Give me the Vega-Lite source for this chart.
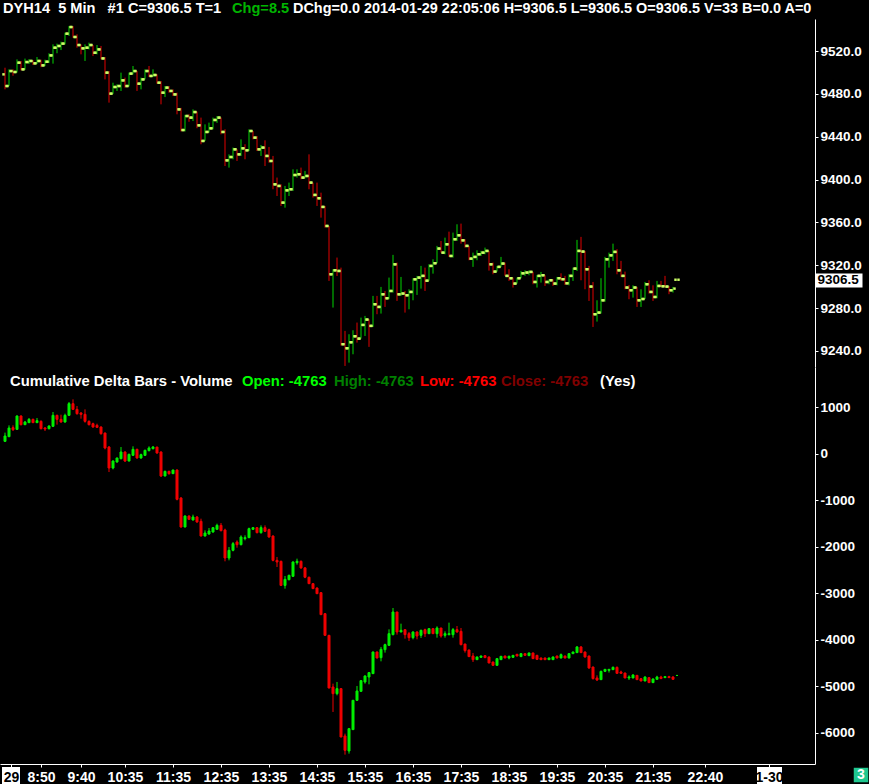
{
  "$schema": "https://vega.github.io/schema/vega-lite/v6.json",
  "background": "black",
  "padding": 0,
  "spacing": 0,
  "config": {
    "view": {"stroke": null},
    "axis": {"labelFont": "Liberation Sans", "labelFontWeight": "bold", "labelFontSize": 13.5, "labelColor": "white", "domainColor": "white", "tickColor": "white", "grid": false, "title": null}
  },
  "datasets": {
    "bars": [
      {"t":"2014-01-29T08:05Z","po":9498.3,"ph":9504.5,"pl":9484.3,"pc":9487.4,"dO":272,"dH":459,"dL":258,"dC":387},
      {"t":"2014-01-29T08:10Z","po":9487.4,"ph":9503,"pl":9487.4,"pc":9501.4,"dO":372,"dH":616,"dL":372,"dC":559},
      {"t":"2014-01-29T08:15Z","po":9501.4,"ph":9503,"pl":9497,"pc":9500.5,"dO":566,"dH":616,"dL":494,"dC":523},
      {"t":"2014-01-29T08:20Z","po":9500.5,"ph":9512.3,"pl":9500,"pc":9509.2,"dO":530,"dH":831,"dL":523,"dC":817},
      {"t":"2014-01-29T08:25Z","po":9509.2,"ph":9510.8,"pl":9502,"pc":9503,"dO":817,"dH":831,"dL":616,"dC":630},
      {"t":"2014-01-29T08:30Z","po":9503,"ph":9513,"pl":9502.5,"pc":9509.8,"dO":630,"dH":710,"dL":630,"dC":688},
      {"t":"2014-01-29T08:35Z","po":9509.8,"ph":9512.5,"pl":9508,"pc":9510.8,"dO":674,"dH":774,"dL":667,"dC":745},
      {"t":"2014-01-29T08:40Z","po":9510.8,"ph":9511.5,"pl":9507,"pc":9508.6,"dO":745,"dH":760,"dL":667,"dC":674},
      {"t":"2014-01-29T08:45Z","po":9508.6,"ph":9514.5,"pl":9508,"pc":9510.8,"dO":674,"dH":774,"dL":674,"dC":717},
      {"t":"2014-01-29T08:50Z","po":9510.8,"ph":9512,"pl":9505,"pc":9506.7,"dO":702,"dH":724,"dL":530,"dC":544},
      {"t":"2014-01-29T08:55Z","po":9506.7,"ph":9512,"pl":9506,"pc":9510.1,"dO":559,"dH":580,"dL":494,"dC":537},
      {"t":"2014-01-29T09:00Z","po":9510.1,"ph":9518,"pl":9509,"pc":9516,"dO":544,"dH":616,"dL":530,"dC":602},
      {"t":"2014-01-29T09:05Z","po":9516,"ph":9526.3,"pl":9508.3,"pc":9523.2,"dO":595,"dH":903,"dL":580,"dC":831},
      {"t":"2014-01-29T09:10Z","po":9523.2,"ph":9527,"pl":9518,"pc":9524.8,"dO":831,"dH":846,"dL":631,"dC":745},
      {"t":"2014-01-29T09:15Z","po":9524.8,"ph":9528.8,"pl":9521,"pc":9527,"dO":745,"dH":846,"dL":674,"dC":688},
      {"t":"2014-01-29T09:20Z","po":9527,"ph":9537.2,"pl":9526.3,"pc":9536.3,"dO":688,"dH":867,"dL":674,"dC":831},
      {"t":"2014-01-29T09:25Z","po":9536.3,"ph":9543.4,"pl":9534.1,"pc":9542.5,"dO":831,"dH":1118,"dL":817,"dC":1082},
      {"t":"2014-01-29T09:30Z","po":9542.5,"ph":9543.4,"pl":9532.5,"pc":9533.2,"dO":1082,"dH":1175,"dL":946,"dC":960},
      {"t":"2014-01-29T09:35Z","po":9533.2,"ph":9535.7,"pl":9523.2,"pc":9525.7,"dO":960,"dH":1032,"dL":846,"dC":867},
      {"t":"2014-01-29T09:40Z","po":9525.7,"ph":9526.3,"pl":9517,"pc":9522.6,"dO":881,"dH":903,"dL":760,"dC":853},
      {"t":"2014-01-29T09:45Z","po":9522.6,"ph":9526.3,"pl":9510.8,"pc":9523.2,"dO":853,"dH":960,"dL":674,"dC":702},
      {"t":"2014-01-29T09:50Z","po":9523.2,"ph":9527.9,"pl":9521.6,"pc":9525.7,"dO":702,"dH":724,"dL":616,"dC":630},
      {"t":"2014-01-29T09:55Z","po":9525.7,"ph":9525.7,"pl":9515.4,"pc":9518.5,"dO":652,"dH":674,"dL":566,"dC":580},
      {"t":"2014-01-29T10:00Z","po":9518.5,"ph":9525.7,"pl":9517,"pc":9521.6,"dO":616,"dH":652,"dL":566,"dC":573},
      {"t":"2014-01-29T10:05Z","po":9521.6,"ph":9524.8,"pl":9512.3,"pc":9513.2,"dO":580,"dH":595,"dL":415,"dC":437},
      {"t":"2014-01-29T10:10Z","po":9513.2,"ph":9514.5,"pl":9493.6,"pc":9499.9,"dO":451,"dH":459,"dL":100,"dC":129},
      {"t":"2014-01-29T10:15Z","po":9499.9,"ph":9501.4,"pl":9471.9,"pc":9480.3,"dO":150,"dH":172,"dL":-388,"dC":-301},
      {"t":"2014-01-29T10:20Z","po":9480.3,"ph":9490.5,"pl":9480,"pc":9486.5,"dO":-301,"dH":-136,"dL":-330,"dC":-151},
      {"t":"2014-01-29T10:25Z","po":9486.5,"ph":9489,"pl":9482.8,"pc":9487.4,"dO":-172,"dH":-79,"dL":-187,"dC":-86},
      {"t":"2014-01-29T10:30Z","po":9487.4,"ph":9499.9,"pl":9482.8,"pc":9492.7,"dO":-101,"dH":150,"dL":-115,"dC":43},
      {"t":"2014-01-29T10:35Z","po":9492.7,"ph":9495.2,"pl":9485.9,"pc":9487.4,"dO":43,"dH":57,"dL":-172,"dC":-151},
      {"t":"2014-01-29T10:40Z","po":9487.4,"ph":9499.9,"pl":9487,"pc":9499,"dO":-151,"dH":7,"dL":-158,"dC":-7},
      {"t":"2014-01-29T10:45Z","po":9499,"ph":9506.1,"pl":9498.3,"pc":9501.4,"dO":-29,"dH":165,"dL":-43,"dC":100},
      {"t":"2014-01-29T10:50Z","po":9501.4,"ph":9501.4,"pl":9482.8,"pc":9489.6,"dO":100,"dH":114,"dL":-101,"dC":-86},
      {"t":"2014-01-29T10:55Z","po":9489.6,"ph":9495.2,"pl":9484.3,"pc":9493.6,"dO":-86,"dH":7,"dL":-101,"dC":-14},
      {"t":"2014-01-29T11:00Z","po":9493.6,"ph":9503,"pl":9493.6,"pc":9501.4,"dO":-29,"dH":93,"dL":-43,"dC":79},
      {"t":"2014-01-29T11:05Z","po":9501.4,"ph":9506.1,"pl":9495.8,"pc":9496.8,"dO":72,"dH":165,"dL":57,"dC":129},
      {"t":"2014-01-29T11:10Z","po":9496.8,"ph":9503,"pl":9495.8,"pc":9497.7,"dO":114,"dH":172,"dL":100,"dC":150},
      {"t":"2014-01-29T11:15Z","po":9497.7,"ph":9498.3,"pl":9489.6,"pc":9490.5,"dO":150,"dH":150,"dL":7,"dC":21},
      {"t":"2014-01-29T11:20Z","po":9490.5,"ph":9492.1,"pl":9470.3,"pc":9481.2,"dO":43,"dH":57,"dL":-495,"dC":-473},
      {"t":"2014-01-29T11:25Z","po":9481.2,"ph":9487.4,"pl":9477.1,"pc":9485.9,"dO":-473,"dH":-359,"dL":-480,"dC":-373},
      {"t":"2014-01-29T11:30Z","po":9485.9,"ph":9487.4,"pl":9481.2,"pc":9482.8,"dO":-373,"dH":-359,"dL":-445,"dC":-423},
      {"t":"2014-01-29T11:35Z","po":9482.8,"ph":9484.3,"pl":9478.1,"pc":9479.6,"dO":-423,"dH":-337,"dL":-430,"dC":-345},
      {"t":"2014-01-29T11:40Z","po":9479.6,"ph":9481.2,"pl":9461,"pc":9465.6,"dO":-345,"dH":-330,"dL":-997,"dC":-975},
      {"t":"2014-01-29T11:45Z","po":9465.6,"ph":9467,"pl":9445,"pc":9446.3,"dO":-947,"dH":-925,"dL":-1584,"dC":-1570},
      {"t":"2014-01-29T11:50Z","po":9446.3,"ph":9460.5,"pl":9445,"pc":9459.4,"dO":-1570,"dH":-1319,"dL":-1577,"dC":-1334},
      {"t":"2014-01-29T11:55Z","po":9459.4,"ph":9461,"pl":9454,"pc":9457.9,"dO":-1334,"dH":-1319,"dL":-1420,"dC":-1405},
      {"t":"2014-01-29T12:00Z","po":9457.9,"ph":9465.6,"pl":9454.7,"pc":9463.1,"dO":-1420,"dH":-1305,"dL":-1427,"dC":-1355},
      {"t":"2014-01-29T12:05Z","po":9463.1,"ph":9463.5,"pl":9448,"pc":9450.7,"dO":-1355,"dH":-1334,"dL":-1477,"dC":-1463},
      {"t":"2014-01-29T12:10Z","po":9450.7,"ph":9457.9,"pl":9433,"pc":9436.1,"dO":-1448,"dH":-1391,"dL":-1771,"dC":-1764},
      {"t":"2014-01-29T12:15Z","po":9436.1,"ph":9451.6,"pl":9436.1,"pc":9444.5,"dO":-1764,"dH":-1642,"dL":-1771,"dC":-1699},
      {"t":"2014-01-29T12:20Z","po":9444.5,"ph":9453.2,"pl":9443.9,"pc":9447.9,"dO":-1721,"dH":-1592,"dL":-1735,"dC":-1656},
      {"t":"2014-01-29T12:25Z","po":9447.9,"ph":9457.9,"pl":9447,"pc":9455.7,"dO":-1678,"dH":-1570,"dL":-1692,"dC":-1584},
      {"t":"2014-01-29T12:30Z","po":9455.7,"ph":9459.4,"pl":9453,"pc":9457.9,"dO":-1620,"dH":-1499,"dL":-1627,"dC":-1535},
      {"t":"2014-01-29T12:35Z","po":9457.9,"ph":9458,"pl":9442.3,"pc":9444.5,"dO":-1535,"dH":-1484,"dL":-1663,"dC":-1649},
      {"t":"2014-01-29T12:40Z","po":9444.5,"ph":9447,"pl":9412.7,"pc":9418,"dO":-1635,"dH":-1606,"dL":-2308,"dC":-2237},
      {"t":"2014-01-29T12:45Z","po":9418,"ph":9423.6,"pl":9411.2,"pc":9421.1,"dO":-2237,"dH":-2000,"dL":-2287,"dC":-2072},
      {"t":"2014-01-29T12:50Z","po":9421.1,"ph":9429.9,"pl":9419,"pc":9428.3,"dO":-2072,"dH":-1893,"dL":-2093,"dC":-1928},
      {"t":"2014-01-29T12:55Z","po":9428.3,"ph":9428.3,"pl":9417.4,"pc":9423.6,"dO":-1893,"dH":-1857,"dL":-2015,"dC":-1950},
      {"t":"2014-01-29T13:00Z","po":9423.6,"ph":9437.6,"pl":9422.1,"pc":9429.2,"dO":-1950,"dH":-1749,"dL":-1965,"dC":-1785},
      {"t":"2014-01-29T13:05Z","po":9429.2,"ph":9433,"pl":9419,"pc":9427.4,"dO":-1821,"dH":-1749,"dL":-1857,"dC":-1800},
      {"t":"2014-01-29T13:10Z","po":9427.4,"ph":9447,"pl":9426.7,"pc":9445.4,"dO":-1800,"dH":-1584,"dL":-1807,"dC":-1606},
      {"t":"2014-01-29T13:15Z","po":9445.4,"ph":9445.4,"pl":9437.6,"pc":9439.2,"dO":-1620,"dH":-1570,"dL":-1635,"dC":-1584},
      {"t":"2014-01-29T13:20Z","po":9439.2,"ph":9440.7,"pl":9426.7,"pc":9428.3,"dO":-1584,"dH":-1570,"dL":-1706,"dC":-1692},
      {"t":"2014-01-29T13:25Z","po":9428.3,"ph":9432.3,"pl":9422.1,"pc":9429.9,"dO":-1692,"dH":-1535,"dL":-1713,"dC":-1584},
      {"t":"2014-01-29T13:30Z","po":9429.9,"ph":9436.7,"pl":9412.7,"pc":9422.1,"dO":-1584,"dH":-1535,"dL":-1678,"dC":-1663},
      {"t":"2014-01-29T13:35Z","po":9422.1,"ph":9430.5,"pl":9415.8,"pc":9417.4,"dO":-1627,"dH":-1606,"dL":-1800,"dC":-1785},
      {"t":"2014-01-29T13:40Z","po":9417.4,"ph":9422.1,"pl":9391,"pc":9395.6,"dO":-1764,"dH":-1749,"dL":-2308,"dC":-2287},
      {"t":"2014-01-29T13:45Z","po":9395.6,"ph":9401.9,"pl":9384.7,"pc":9394.1,"dO":-2287,"dH":-2215,"dL":-2430,"dC":-2323},
      {"t":"2014-01-29T13:50Z","po":9394.1,"ph":9395.6,"pl":9375.4,"pc":9378.5,"dO":-2308,"dH":-2294,"dL":-2840,"dC":-2826},
      {"t":"2014-01-29T13:55Z","po":9378.5,"ph":9394.1,"pl":9373.8,"pc":9390,"dO":-2826,"dH":-2624,"dL":-2896,"dC":-2696},
      {"t":"2014-01-29T14:00Z","po":9390,"ph":9397.2,"pl":9384.7,"pc":9391,"dO":-2703,"dH":-2595,"dL":-2717,"dC":-2610},
      {"t":"2014-01-29T14:05Z","po":9391,"ph":9409.6,"pl":9389.4,"pc":9404.3,"dO":-2631,"dH":-2308,"dL":-2645,"dC":-2323},
      {"t":"2014-01-29T14:10Z","po":9404.3,"ph":9409.6,"pl":9401.9,"pc":9405,"dO":-2337,"dH":-2251,"dL":-2380,"dC":-2308},
      {"t":"2014-01-29T14:15Z","po":9405,"ph":9411.2,"pl":9400.3,"pc":9401.9,"dO":-2308,"dH":-2290,"dL":-2470,"dC":-2450},
      {"t":"2014-01-29T14:20Z","po":9401.9,"ph":9408.1,"pl":9401.2,"pc":9403.4,"dO":-2450,"dH":-2430,"dL":-2670,"dC":-2650},
      {"t":"2014-01-29T14:25Z","po":9403.4,"ph":9423.6,"pl":9391,"pc":9397.2,"dO":-2650,"dH":-2640,"dL":-2795,"dC":-2789},
      {"t":"2014-01-29T14:30Z","po":9397.2,"ph":9397.2,"pl":9383.2,"pc":9385.7,"dO":-2789,"dH":-2775,"dL":-2900,"dC":-2896},
      {"t":"2014-01-29T14:35Z","po":9385.7,"ph":9397.2,"pl":9375.4,"pc":9382.6,"dO":-2882,"dH":-2870,"dL":-3010,"dC":-3004},
      {"t":"2014-01-29T14:40Z","po":9382.6,"ph":9387.8,"pl":9364.5,"pc":9374.5,"dO":-2982,"dH":-2975,"dL":-3460,"dC":-3455},
      {"t":"2014-01-29T14:45Z","po":9374.5,"ph":9375.4,"pl":9355.2,"pc":9356.7,"dO":-3434,"dH":-3420,"dL":-3910,"dC":-3900},
      {"t":"2014-01-29T14:50Z","po":9356.7,"ph":9356.7,"pl":9305.4,"pc":9311.6,"dO":-3900,"dH":-3890,"dL":-5040,"dC":-5032},
      {"t":"2014-01-29T14:55Z","po":9311.6,"ph":9316.3,"pl":9280.5,"pc":9315.3,"dO":-5011,"dH":-4939,"dL":-5548,"dC":-5154},
      {"t":"2014-01-29T15:00Z","po":9315.3,"ph":9327.2,"pl":9310,"pc":9314.7,"dO":-5154,"dH":-4903,"dL":-5190,"dC":-5046},
      {"t":"2014-01-29T15:05Z","po":9314.7,"ph":9317.8,"pl":9245,"pc":9246.3,"dO":-5046,"dH":-5040,"dL":-6090,"dC":-6086},
      {"t":"2014-01-29T15:10Z","po":9246.3,"ph":9258.7,"pl":9226,"pc":9242.5,"dO":-6064,"dH":-6014,"dL":-6466,"dC":-6373},
      {"t":"2014-01-29T15:15Z","po":9242.5,"ph":9255.6,"pl":9229.1,"pc":9248.1,"dO":-6387,"dH":-5892,"dL":-6444,"dC":-5907},
      {"t":"2014-01-29T15:20Z","po":9248.1,"ph":9259.3,"pl":9236.9,"pc":9253.7,"dO":-5928,"dH":-5290,"dL":-5935,"dC":-5297},
      {"t":"2014-01-29T15:25Z","po":9253.7,"ph":9266.5,"pl":9247.8,"pc":9251.5,"dO":-5297,"dH":-4989,"dL":-5312,"dC":-5097},
      {"t":"2014-01-29T15:30Z","po":9251.5,"ph":9271.1,"pl":9251.5,"pc":9264.3,"dO":-5104,"dH":-4870,"dL":-5110,"dC":-4874},
      {"t":"2014-01-29T15:35Z","po":9264.3,"ph":9272.7,"pl":9254,"pc":9269.3,"dO":-4903,"dH":-4760,"dL":-4939,"dC":-4774},
      {"t":"2014-01-29T15:40Z","po":9269.3,"ph":9269.6,"pl":9243.8,"pc":9263.4,"dO":-4796,"dH":-4688,"dL":-4953,"dC":-4702},
      {"t":"2014-01-29T15:45Z","po":9263.4,"ph":9291.4,"pl":9262.4,"pc":9283.6,"dO":-4724,"dH":-4250,"dL":-4730,"dC":-4258},
      {"t":"2014-01-29T15:50Z","po":9283.6,"ph":9291.4,"pl":9274.3,"pc":9281.1,"dO":-4258,"dH":-4250,"dL":-4395,"dC":-4387},
      {"t":"2014-01-29T15:55Z","po":9281.1,"ph":9299.8,"pl":9274.9,"pc":9292.9,"dO":-4380,"dH":-4150,"dL":-4459,"dC":-4201},
      {"t":"2014-01-29T16:00Z","po":9292.9,"ph":9296,"pl":9281.1,"pc":9289.2,"dO":-4208,"dH":-4079,"dL":-4272,"dC":-4100},
      {"t":"2014-01-29T16:05Z","po":9289.2,"ph":9308.5,"pl":9288.3,"pc":9296,"dO":-4115,"dH":-3771,"dL":-4129,"dC":-3864},
      {"t":"2014-01-29T16:10Z","po":9296,"ph":9329.7,"pl":9294.5,"pc":9320.9,"dO":-3885,"dH":-3312,"dL":-3900,"dC":-3398},
      {"t":"2014-01-29T16:15Z","po":9320.9,"ph":9322.5,"pl":9286.7,"pc":9292.9,"dO":-3398,"dH":-3398,"dL":-3885,"dC":-3828},
      {"t":"2014-01-29T16:20Z","po":9292.9,"ph":9309.1,"pl":9291.4,"pc":9293.6,"dO":-3828,"dH":-3649,"dL":-3830,"dC":-3792},
      {"t":"2014-01-29T16:25Z","po":9293.6,"ph":9296,"pl":9275.8,"pc":9292,"dO":-3778,"dH":-3778,"dL":-3971,"dC":-3885},
      {"t":"2014-01-29T16:30Z","po":9292,"ph":9297.6,"pl":9278.9,"pc":9295.1,"dO":-3864,"dH":-3828,"dL":-4021,"dC":-3950},
      {"t":"2014-01-29T16:35Z","po":9295.1,"ph":9307.9,"pl":9287.3,"pc":9306.9,"dO":-3950,"dH":-3814,"dL":-3986,"dC":-3828},
      {"t":"2014-01-29T16:40Z","po":9306.9,"ph":9310.1,"pl":9292.3,"pc":9308.5,"dO":-3828,"dH":-3814,"dL":-3986,"dC":-3914},
      {"t":"2014-01-29T16:45Z","po":9308.5,"ph":9319.4,"pl":9298.2,"pc":9310.1,"dO":-3900,"dH":-3778,"dL":-3957,"dC":-3792},
      {"t":"2014-01-29T16:50Z","po":9310.1,"ph":9317.8,"pl":9296,"pc":9305.6,"dO":-3778,"dH":-3756,"dL":-3935,"dC":-3864},
      {"t":"2014-01-29T16:55Z","po":9305.6,"ph":9321,"pl":9305.6,"pc":9319.4,"dO":-3864,"dH":-3750,"dL":-3870,"dC":-3756},
      {"t":"2014-01-29T17:00Z","po":9319.4,"ph":9325.6,"pl":9312.2,"pc":9321.9,"dO":-3756,"dH":-3750,"dL":-3870,"dC":-3864},
      {"t":"2014-01-29T17:05Z","po":9321.9,"ph":9338.1,"pl":9321.9,"pc":9335.6,"dO":-3864,"dH":-3706,"dL":-3950,"dC":-3742},
      {"t":"2014-01-29T17:10Z","po":9335.6,"ph":9342.7,"pl":9331.8,"pc":9331.8,"dO":-3742,"dH":-3742,"dL":-3950,"dC":-3914},
      {"t":"2014-01-29T17:15Z","po":9331.8,"ph":9345.8,"pl":9330.3,"pc":9339.6,"dO":-3900,"dH":-3814,"dL":-3950,"dC":-3864},
      {"t":"2014-01-29T17:20Z","po":9339.6,"ph":9351.4,"pl":9327.8,"pc":9328.7,"dO":-3885,"dH":-3627,"dL":-3900,"dC":-3864},
      {"t":"2014-01-29T17:25Z","po":9328.7,"ph":9350.5,"pl":9327.2,"pc":9344.3,"dO":-3885,"dH":-3742,"dL":-3950,"dC":-3778},
      {"t":"2014-01-29T17:30Z","po":9344.3,"ph":9358.3,"pl":9342.7,"pc":9348,"dO":-3778,"dH":-3699,"dL":-3842,"dC":-3828},
      {"t":"2014-01-29T17:35Z","po":9348,"ph":9358.9,"pl":9340.2,"pc":9343.3,"dO":-3814,"dH":-3742,"dL":-4115,"dC":-4100},
      {"t":"2014-01-29T17:40Z","po":9343.3,"ph":9344.3,"pl":9336.5,"pc":9338.1,"dO":-4086,"dH":-4086,"dL":-4272,"dC":-4229},
      {"t":"2014-01-29T17:45Z","po":9338.1,"ph":9338.1,"pl":9324.7,"pc":9326.2,"dO":-4215,"dH":-4210,"dL":-4365,"dC":-4358},
      {"t":"2014-01-29T17:50Z","po":9326.2,"ph":9331.8,"pl":9318.5,"pc":9327.8,"dO":-4344,"dH":-4279,"dL":-4473,"dC":-4423},
      {"t":"2014-01-29T17:55Z","po":9327.8,"ph":9334,"pl":9324.7,"pc":9330.3,"dO":-4423,"dH":-4360,"dL":-4430,"dC":-4365},
      {"t":"2014-01-29T18:00Z","po":9330.3,"ph":9333.4,"pl":9328.7,"pc":9331.8,"dO":-4373,"dH":-4337,"dL":-4380,"dC":-4344},
      {"t":"2014-01-29T18:05Z","po":9331.8,"ph":9336.5,"pl":9330.3,"pc":9333.4,"dO":-4337,"dH":-4330,"dL":-4385,"dC":-4380},
      {"t":"2014-01-29T18:10Z","po":9333.4,"ph":9333.4,"pl":9315,"pc":9320.9,"dO":-4365,"dH":-4360,"dL":-4500,"dC":-4494},
      {"t":"2014-01-29T18:15Z","po":9320.9,"ph":9322.5,"pl":9311.6,"pc":9314.1,"dO":-4473,"dH":-4470,"dL":-4550,"dC":-4545},
      {"t":"2014-01-29T18:20Z","po":9314.1,"ph":9319.4,"pl":9314.1,"pc":9318.5,"dO":-4545,"dH":-4395,"dL":-4550,"dC":-4401},
      {"t":"2014-01-29T18:25Z","po":9318.5,"ph":9327.8,"pl":9318.5,"pc":9321.6,"dO":-4423,"dH":-4345,"dL":-4430,"dC":-4351},
      {"t":"2014-01-29T18:30Z","po":9321.6,"ph":9322.5,"pl":9310.1,"pc":9310.1,"dO":-4344,"dH":-4340,"dL":-4390,"dC":-4387},
      {"t":"2014-01-29T18:35Z","po":9310.1,"ph":9316.3,"pl":9305.4,"pc":9307.9,"dO":-4387,"dH":-4337,"dL":-4416,"dC":-4351},
      {"t":"2014-01-29T18:40Z","po":9307.9,"ph":9308.5,"pl":9299.2,"pc":9302.9,"dO":-4373,"dH":-4325,"dL":-4380,"dC":-4330},
      {"t":"2014-01-29T18:45Z","po":9302.9,"ph":9308.5,"pl":9302.9,"pc":9307.9,"dO":-4308,"dH":-4300,"dL":-4350,"dC":-4344},
      {"t":"2014-01-29T18:50Z","po":9307.9,"ph":9314.7,"pl":9307.9,"pc":9312.5,"dO":-4358,"dH":-4290,"dL":-4365,"dC":-4294},
      {"t":"2014-01-29T18:55Z","po":9312.5,"ph":9315.3,"pl":9310.1,"pc":9313.2,"dO":-4294,"dH":-4290,"dL":-4335,"dC":-4330},
      {"t":"2014-01-29T19:00Z","po":9313.2,"ph":9315.3,"pl":9310.7,"pc":9313.8,"dO":-4337,"dH":-4275,"dL":-4340,"dC":-4279},
      {"t":"2014-01-29T19:05Z","po":9313.8,"ph":9313.8,"pl":9302.3,"pc":9304.4,"dO":-4279,"dH":-4275,"dL":-4405,"dC":-4401},
      {"t":"2014-01-29T19:10Z","po":9304.4,"ph":9311,"pl":9299.2,"pc":9310.1,"dO":-4330,"dH":-4320,"dL":-4430,"dC":-4416},
      {"t":"2014-01-29T19:15Z","po":9310.1,"ph":9313.8,"pl":9303.8,"pc":9310.7,"dO":-4387,"dH":-4380,"dL":-4430,"dC":-4423},
      {"t":"2014-01-29T19:20Z","po":9310.7,"ph":9310.7,"pl":9300.7,"pc":9304.4,"dO":-4387,"dH":-4380,"dL":-4430,"dC":-4423},
      {"t":"2014-01-29T19:25Z","po":9304.4,"ph":9306.9,"pl":9302.3,"pc":9306,"dO":-4423,"dH":-4380,"dL":-4430,"dC":-4387},
      {"t":"2014-01-29T19:30Z","po":9306,"ph":9306.9,"pl":9300.7,"pc":9302.9,"dO":-4423,"dH":-4358,"dL":-4430,"dC":-4365},
      {"t":"2014-01-29T19:35Z","po":9302.9,"ph":9309.1,"pl":9301.3,"pc":9307.9,"dO":-4344,"dH":-4340,"dL":-4395,"dC":-4387},
      {"t":"2014-01-29T19:40Z","po":9307.9,"ph":9312.5,"pl":9305.4,"pc":9307,"dO":-4387,"dH":-4290,"dL":-4395,"dC":-4315},
      {"t":"2014-01-29T19:45Z","po":9307,"ph":9310.1,"pl":9301.6,"pc":9303.2,"dO":-4344,"dH":-4340,"dL":-4395,"dC":-4387},
      {"t":"2014-01-29T19:50Z","po":9303.2,"ph":9311.6,"pl":9301.3,"pc":9310.1,"dO":-4387,"dH":-4290,"dL":-4395,"dC":-4294},
      {"t":"2014-01-29T19:55Z","po":9310.1,"ph":9317.8,"pl":9305.4,"pc":9316.9,"dO":-4294,"dH":-4250,"dL":-4300,"dC":-4258},
      {"t":"2014-01-29T20:00Z","po":9316.9,"ph":9343.7,"pl":9314.7,"pc":9333.4,"dO":-4272,"dH":-4130,"dL":-4280,"dC":-4150},
      {"t":"2014-01-29T20:05Z","po":9333.4,"ph":9346.5,"pl":9306,"pc":9332.8,"dO":-4150,"dH":-4130,"dL":-4280,"dC":-4272},
      {"t":"2014-01-29T20:10Z","po":9332.8,"ph":9333.4,"pl":9297.6,"pc":9316.3,"dO":-4258,"dH":-4250,"dL":-4380,"dC":-4365},
      {"t":"2014-01-29T20:15Z","po":9316.3,"ph":9319.4,"pl":9286.7,"pc":9300.1,"dO":-4344,"dH":-4340,"dL":-4620,"dC":-4602},
      {"t":"2014-01-29T20:20Z","po":9300.1,"ph":9304.4,"pl":9262.4,"pc":9274.3,"dO":-4581,"dH":-4575,"dL":-4850,"dC":-4831},
      {"t":"2014-01-29T20:25Z","po":9274.3,"ph":9287.3,"pl":9267.4,"pc":9275.8,"dO":-4817,"dH":-4760,"dL":-4882,"dC":-4860},
      {"t":"2014-01-29T20:30Z","po":9275.8,"ph":9307.9,"pl":9275,"pc":9287.3,"dO":-4853,"dH":-4660,"dL":-4860,"dC":-4674},
      {"t":"2014-01-29T20:35Z","po":9287.3,"ph":9327.8,"pl":9286,"pc":9325.6,"dO":-4674,"dH":-4625,"dL":-4690,"dC":-4631},
      {"t":"2014-01-29T20:40Z","po":9325.6,"ph":9331.8,"pl":9317.8,"pc":9329.3,"dO":-4652,"dH":-4625,"dL":-4700,"dC":-4631},
      {"t":"2014-01-29T20:45Z","po":9329.3,"ph":9340.2,"pl":9324.1,"pc":9332.5,"dO":-4638,"dH":-4570,"dL":-4645,"dC":-4588},
      {"t":"2014-01-29T20:50Z","po":9332.5,"ph":9335,"pl":9311.6,"pc":9315.3,"dO":-4588,"dH":-4570,"dL":-4720,"dC":-4717},
      {"t":"2014-01-29T20:55Z","po":9315.3,"ph":9324.1,"pl":9309.1,"pc":9310.1,"dO":-4688,"dH":-4660,"dL":-4720,"dC":-4717},
      {"t":"2014-01-29T21:00Z","po":9310.1,"ph":9314.1,"pl":9297.6,"pc":9299.2,"dO":-4710,"dH":-4705,"dL":-4820,"dC":-4817},
      {"t":"2014-01-29T21:05Z","po":9299.2,"ph":9301.6,"pl":9288.3,"pc":9296.7,"dO":-4817,"dH":-4760,"dL":-4860,"dC":-4795},
      {"t":"2014-01-29T21:10Z","po":9296.7,"ph":9301.3,"pl":9289.8,"pc":9299.2,"dO":-4817,"dH":-4735,"dL":-4820,"dC":-4753},
      {"t":"2014-01-29T21:15Z","po":9299.2,"ph":9299.8,"pl":9281.1,"pc":9287.3,"dO":-4760,"dH":-4755,"dL":-4860,"dC":-4853},
      {"t":"2014-01-29T21:20Z","po":9287.3,"ph":9297.6,"pl":9281.1,"pc":9288.5,"dO":-4831,"dH":-4825,"dL":-4885,"dC":-4882},
      {"t":"2014-01-29T21:25Z","po":9288.5,"ph":9304.4,"pl":9288.5,"pc":9302.3,"dO":-4882,"dH":-4780,"dL":-4885,"dC":-4796},
      {"t":"2014-01-29T21:30Z","po":9302.3,"ph":9306,"pl":9293.6,"pc":9295.1,"dO":-4810,"dH":-4805,"dL":-4920,"dC":-4917},
      {"t":"2014-01-29T21:35Z","po":9295.1,"ph":9301.3,"pl":9286.7,"pc":9290.4,"dO":-4917,"dH":-4830,"dL":-4920,"dC":-4838},
      {"t":"2014-01-29T21:40Z","po":9290.4,"ph":9305.4,"pl":9289.2,"pc":9300.7,"dO":-4846,"dH":-4770,"dL":-4850,"dC":-4796},
      {"t":"2014-01-29T21:45Z","po":9300.7,"ph":9305.4,"pl":9299.8,"pc":9300.4,"dO":-4796,"dH":-4770,"dL":-4835,"dC":-4831},
      {"t":"2014-01-29T21:50Z","po":9300.4,"ph":9310.1,"pl":9299.2,"pc":9300.1,"dO":-4810,"dH":-4780,"dL":-4815,"dC":-4788},
      {"t":"2014-01-29T21:55Z","po":9300.1,"ph":9300.7,"pl":9293,"pc":9296.7,"dO":-4788,"dH":-4770,"dL":-4815,"dC":-4810},
      {"t":"2014-01-29T22:00Z","po":9296.7,"ph":9299.8,"pl":9294.5,"pc":9298.2,"dO":-4796,"dH":-4780,"dL":-4850,"dC":-4846},
      {"t":"2014-01-29T22:05Z","po":9306.5,"ph":9306.5,"pl":9306.5,"pc":9306.5,"dO":-4763,"dH":-4763,"dL":-4763,"dC":-4763}
    ]
  },
  "vconcat": [
    {
      "width": 815,
      "height": 348,
      "layer": [
        {
          "data": {"name": "bars"},
          "mark": {"type": "rule", "strokeWidth": 1},
          "encoding": {
            "x": {"field": "t", "type": "temporal", "axis": null,
                  "scale": {"type": "utc", "padding": 0, "domain": [{"year": 2014, "month": 1, "date": 29, "hours": 7, "minutes": 58, "seconds": 45, "utc": true}, {"year": 2014, "month": 1, "date": 30, "hours": 0, "minutes": 57, "seconds": 30, "utc": true}]}},
            "y": {"field": "ph", "type": "quantitative", "title": null,
                  "scale": {"domain": [9225, 9550], "zero": false, "nice": false},
                  "axis": {"orient": "right", "values": [9240, 9280, 9306.5, 9320, 9360, 9400, 9440, 9480, 9520], "format": ".1f", "labelOverlap": false, "labelBound": false,
                           "tickSize": {"condition": {"test": "datum.value == 9306.5", "value": 47}, "value": 3},
                           "labelPadding": {"condition": {"test": "datum.value == 9306.5", "value": -45}, "value": 2},
                           "tickWidth": {"condition": {"test": "datum.value == 9306.5", "value": 14}, "value": 1},
                           "labelColor": {"condition": {"test": "datum.value == 9306.5", "value": "black"}, "value": "white"}}},
            "y2": {"field": "pl"},
            "color": {"condition": {"test": "datum.pc < datum.po", "value": "#e00000"}, "value": "#00d400"}
          }
        },
        {
          "data": {"name": "bars"},
          "mark": {"type": "square", "size": 6, "xOffset": -1.5, "color": "#ccff66", "opacity": 1},
          "encoding": {"x": {"field": "t", "type": "temporal"}, "y": {"field": "po", "type": "quantitative", "title": null}}
        },
        {
          "data": {"name": "bars"},
          "mark": {"type": "square", "size": 6, "xOffset": 1.5, "color": "#ccff66", "opacity": 1},
          "encoding": {"x": {"field": "t", "type": "temporal"}, "y": {"field": "pc", "type": "quantitative", "title": null}}
        },
        {
          "data": {"values": [{"k": 1}]},
          "mark": {"type": "text", "font": "Liberation Sans", "fontWeight": "bold", "align": "left", "baseline": "middle", "fontSize": 14.6, "color": "white"},
          "encoding": {
            "x": {"datum": {"year": 2014, "month": 1, "date": 29, "hours": 8, "minutes": 2, "seconds": 30, "utc": true}, "type": "temporal"},
            "y": {"datum": 9559.5, "type": "quantitative"},
            "text": {"value": "DYH14\u00a0\u00a05 Min\u00a0\u00a0\u00a0#1 C=9306.5 T=1"}
          }
        },
        {
          "data": {"values": [{"k": 1}]},
          "mark": {"type": "text", "font": "Liberation Sans", "fontWeight": "bold", "align": "left", "baseline": "middle", "fontSize": 14.6, "color": "#00b400"},
          "encoding": {
            "x": {"datum": {"year": 2014, "month": 1, "date": 29, "hours": 12, "minutes": 48, "seconds": 45, "utc": true}, "type": "temporal"},
            "y": {"datum": 9559.5, "type": "quantitative"},
            "text": {"value": "Chg=8.5"}
          }
        },
        {
          "data": {"values": [{"k": 1}]},
          "mark": {"type": "text", "font": "Liberation Sans", "fontWeight": "bold", "align": "left", "baseline": "middle", "fontSize": 14.45, "color": "white"},
          "encoding": {
            "x": {"datum": {"year": 2014, "month": 1, "date": 29, "hours": 14, "minutes": 5, "seconds": 0, "utc": true}, "type": "temporal"},
            "y": {"datum": 9559.5, "type": "quantitative"},
            "text": {"value": "DChg=0.0 2014-01-29 22:05:06 H=9306.5 L=9306.5 O=9306.5 V=33 B=0.0 A=0"}
          }
        }
      ]
    },
    {
      "width": 815,
      "height": 397,
      "layer": [
        {
          "data": {"values": [{"k": 1}]},
          "mark": {"type": "rect", "color": "white", "opacity": 1},
          "encoding": {
            "x": {"datum": {"year": 2014, "month": 1, "date": 29, "hours": 8, "minutes": 1, "seconds": 15, "utc": true}, "type": "temporal",
                  "scale": {"type": "utc", "padding": 0, "domain": [{"year": 2014, "month": 1, "date": 29, "hours": 7, "minutes": 58, "seconds": 45, "utc": true}, {"year": 2014, "month": 1, "date": 30, "hours": 0, "minutes": 57, "seconds": 30, "utc": true}]},
                  "axis": {"orient": "bottom", "zindex": 1, "labelOverlap": false, "labelFlush": false, "labelFontSize": 14, "tickSize": 3, "labelPadding": 3,
                           "values": [
                             {"year": 2014, "month": 1, "date": 29, "hours": 8, "minutes": 12, "seconds": 30, "utc": true},
                             {"year": 2014, "month": 1, "date": 29, "hours": 8, "minutes": 50, "utc": true},
                             {"year": 2014, "month": 1, "date": 29, "hours": 9, "minutes": 40, "utc": true},
                             {"year": 2014, "month": 1, "date": 29, "hours": 10, "minutes": 35, "utc": true},
                             {"year": 2014, "month": 1, "date": 29, "hours": 11, "minutes": 35, "utc": true},
                             {"year": 2014, "month": 1, "date": 29, "hours": 12, "minutes": 35, "utc": true},
                             {"year": 2014, "month": 1, "date": 29, "hours": 13, "minutes": 35, "utc": true},
                             {"year": 2014, "month": 1, "date": 29, "hours": 14, "minutes": 35, "utc": true},
                             {"year": 2014, "month": 1, "date": 29, "hours": 15, "minutes": 35, "utc": true},
                             {"year": 2014, "month": 1, "date": 29, "hours": 16, "minutes": 35, "utc": true},
                             {"year": 2014, "month": 1, "date": 29, "hours": 17, "minutes": 35, "utc": true},
                             {"year": 2014, "month": 1, "date": 29, "hours": 18, "minutes": 35, "utc": true},
                             {"year": 2014, "month": 1, "date": 29, "hours": 19, "minutes": 35, "utc": true},
                             {"year": 2014, "month": 1, "date": 29, "hours": 20, "minutes": 35, "utc": true},
                             {"year": 2014, "month": 1, "date": 29, "hours": 21, "minutes": 35, "utc": true},
                             {"year": 2014, "month": 1, "date": 29, "hours": 22, "minutes": 40, "utc": true},
                             {"year": 2014, "month": 1, "date": 30, "hours": 0, "minutes": 0, "utc": true}
                           ],
                           "labelExpr": "utcFormat(datum.value, '%H:%M:%S') == '08:12:30' ? '29' : (utcFormat(datum.value, '%H:%M') == '00:00' ? '1-30' : utcFormat(datum.value, '%-H:%M'))",
                           "labelColor": {"condition": {"test": "utcFormat(datum.value, '%H:%M:%S') == '08:12:30' || utcFormat(datum.value, '%H:%M') == '00:00'", "value": "black"}, "value": "white"}
                  }},
            "x2": {"datum": {"year": 2014, "month": 1, "date": 29, "hours": 8, "minutes": 23, "seconds": 45, "utc": true}},
            "y": {"datum": -6731, "type": "quantitative",
                  "scale": {"domain": [-6667, 1871], "zero": false, "nice": false, "padding": 0},
                  "axis": {"orient": "right", "values": [-6000, -5000, -4000, -3000, -2000, -1000, 0, 1000], "labelExpr": "'' + datum.value", "tickSize": 3, "labelPadding": 2}},
            "y2": {"datum": -7097}
          }
        },
        {
          "data": {"values": [{"k": 1}]},
          "mark": {"type": "rect", "color": "white", "opacity": 1},
          "encoding": {
            "x": {"datum": {"year": 2014, "month": 1, "date": 29, "hours": 23, "minutes": 45, "seconds": 0, "utc": true}, "type": "temporal"},
            "x2": {"datum": {"year": 2014, "month": 1, "date": 30, "hours": 0, "minutes": 16, "seconds": 15, "utc": true}},
            "y": {"datum": -6731, "type": "quantitative"},
            "y2": {"datum": -7097}
          }
        },
        {
          "data": {"name": "bars"},
          "mark": {"type": "rule", "strokeWidth": 1},
          "encoding": {
            "x": {"field": "t", "type": "temporal"},
            "y": {"field": "dH", "type": "quantitative", "title": null},
            "y2": {"field": "dL"},
            "color": {"condition": {"test": "datum.dC < datum.dO", "value": "#ee0000"}, "value": "#00ee00"}
          }
        },
        {
          "data": {"name": "bars"},
          "mark": {"type": "bar", "size": 2, "strokeWidth": 1},
          "encoding": {
            "x": {"field": "t", "type": "temporal"},
            "y": {"field": "dO", "type": "quantitative", "title": null},
            "y2": {"field": "dC"},
            "fill": {"condition": {"test": "datum.dC < datum.dO", "value": "#ee0000"}, "value": "#00ee00"},
            "stroke": {"condition": {"test": "datum.dC < datum.dO", "value": "#ee0000"}, "value": "#00ee00"}
          }
        },
        {
          "data": {"values": [{"k": 1}]},
          "mark": {"type": "text", "font": "Liberation Sans", "fontWeight": "bold", "align": "left", "baseline": "middle", "fontSize": 14.8, "color": "white"},
          "encoding": {
            "x": {"datum": {"year": 2014, "month": 1, "date": 29, "hours": 8, "minutes": 11, "seconds": 15, "utc": true}, "type": "temporal"},
            "y": {"datum": 1548, "type": "quantitative"},
            "text": {"value": "Cumulative Delta Bars - Volume"}
          }
        },
        {
          "data": {"values": [{"k": 1}]},
          "mark": {"type": "text", "font": "Liberation Sans", "fontWeight": "bold", "align": "left", "baseline": "middle", "fontSize": 14.8, "color": "#00ff00"},
          "encoding": {
            "x": {"datum": {"year": 2014, "month": 1, "date": 29, "hours": 13, "minutes": 1, "seconds": 15, "utc": true}, "type": "temporal"},
            "y": {"datum": 1548, "type": "quantitative"},
            "text": {"value": "Open: -4763"}
          }
        },
        {
          "data": {"values": [{"k": 1}]},
          "mark": {"type": "text", "font": "Liberation Sans", "fontWeight": "bold", "align": "left", "baseline": "middle", "fontSize": 14.8, "color": "#008000"},
          "encoding": {
            "x": {"datum": {"year": 2014, "month": 1, "date": 29, "hours": 14, "minutes": 56, "seconds": 15, "utc": true}, "type": "temporal"},
            "y": {"datum": 1548, "type": "quantitative"},
            "text": {"value": "High: -4763"}
          }
        },
        {
          "data": {"values": [{"k": 1}]},
          "mark": {"type": "text", "font": "Liberation Sans", "fontWeight": "bold", "align": "left", "baseline": "middle", "fontSize": 14.8, "color": "#ff0000"},
          "encoding": {
            "x": {"datum": {"year": 2014, "month": 1, "date": 29, "hours": 16, "minutes": 43, "seconds": 45, "utc": true}, "type": "temporal"},
            "y": {"datum": 1548, "type": "quantitative"},
            "text": {"value": "Low: -4763"}
          }
        },
        {
          "data": {"values": [{"k": 1}]},
          "mark": {"type": "text", "font": "Liberation Sans", "fontWeight": "bold", "align": "left", "baseline": "middle", "fontSize": 14.8, "color": "#800000"},
          "encoding": {
            "x": {"datum": {"year": 2014, "month": 1, "date": 29, "hours": 18, "minutes": 25, "seconds": 0, "utc": true}, "type": "temporal"},
            "y": {"datum": 1548, "type": "quantitative"},
            "text": {"value": "Close: -4763"}
          }
        },
        {
          "data": {"values": [{"k": 1}]},
          "mark": {"type": "text", "font": "Liberation Sans", "fontWeight": "bold", "align": "left", "baseline": "middle", "fontSize": 14.8, "color": "white"},
          "encoding": {
            "x": {"datum": {"year": 2014, "month": 1, "date": 29, "hours": 20, "minutes": 28, "seconds": 45, "utc": true}, "type": "temporal"},
            "y": {"datum": 1548, "type": "quantitative"},
            "text": {"value": "(Yes)"}
          }
        },
        {
          "data": {"values": [{"k": 1}]},
          "mark": {"type": "square", "size": 210, "color": "#20c890", "opacity": 1},
          "encoding": {
            "x": {"datum": {"year": 2014, "month": 1, "date": 30, "hours": 1, "minutes": 55, "seconds": 0, "utc": true}, "type": "temporal"},
            "y": {"datum": -6904, "type": "quantitative"}
          }
        },
        {
          "data": {"values": [{"k": 1}]},
          "mark": {"type": "text", "font": "Liberation Sans", "fontWeight": "bold", "align": "center", "baseline": "middle", "fontSize": 14, "color": "white"},
          "encoding": {
            "x": {"datum": {"year": 2014, "month": 1, "date": 30, "hours": 1, "minutes": 55, "seconds": 0, "utc": true}, "type": "temporal"},
            "y": {"datum": -6904, "type": "quantitative"},
            "text": {"value": "3"}
          }
        }
      ]
    }
  ]
}
